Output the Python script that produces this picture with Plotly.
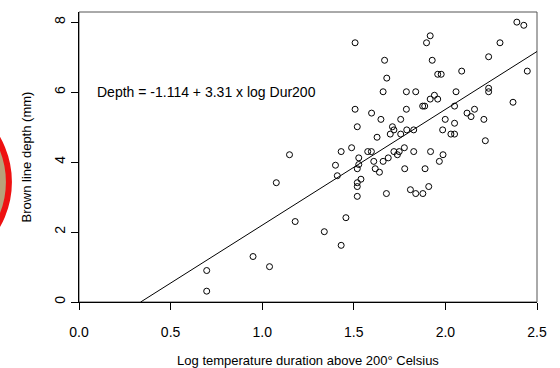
import plotly.graph_objects as go

# Data (log duration above 200 C, brown line depth mm)
log_dur = [0.697, 0.697, 0.95, 1.04, 1.077, 1.149, 1.18, 1.339, 1.431, 1.457,
           1.40, 1.41, 1.431, 1.488, 1.507, 1.507, 1.519, 1.527, 1.527, 1.519,
           1.539, 1.519, 1.519, 1.519, 1.576, 1.596, 1.597, 1.609, 1.617, 1.627,
           1.64, 1.648, 1.66, 1.66, 1.668, 1.68, 1.678, 1.688, 1.699, 1.711,
           1.719, 1.719, 1.738, 1.748, 1.756, 1.756, 1.776, 1.778, 1.787, 1.787,
           1.789, 1.809, 1.827, 1.827, 1.838, 1.838, 1.876, 1.887, 1.877, 1.889,
           1.897, 1.909, 1.917, 1.917, 1.919, 1.928, 1.94, 1.958, 1.958, 1.977,
           1.967, 1.985, 1.987, 1.999, 2.03, 2.05, 2.05, 2.05, 2.058, 2.089,
           2.118, 2.14, 2.159, 2.21, 2.218, 2.236, 2.236, 2.236, 2.298, 2.369,
           2.39, 2.428, 2.447]
depth = [0.90, 0.31, 1.30, 1.01, 3.41, 4.21, 2.30, 2.01, 1.62, 2.41,
         3.91, 3.61, 4.30, 4.41, 7.41, 5.51, 5.01, 4.12, 3.93, 3.81,
         3.51, 3.41, 3.30, 3.02, 4.30, 4.30, 5.40, 4.02, 3.81, 4.71,
         3.71, 5.22, 6.01, 4.02, 6.91, 6.40, 3.10, 4.12, 4.80, 5.01,
         4.92, 4.30, 4.21, 4.30, 5.22, 4.80, 4.41, 3.81, 6.01, 5.51,
         4.92, 3.21, 4.92, 4.30, 6.01, 3.10, 5.60, 5.60, 3.10, 3.81,
         7.41, 3.30, 7.61, 5.80, 4.30, 6.91, 5.91, 5.80, 6.51, 6.51,
         4.02, 4.92, 4.21, 5.22, 4.80, 4.80, 5.60, 5.11, 6.01, 6.60,
         5.40, 5.30, 5.51, 5.22, 4.61, 7.01, 6.11, 6.01, 7.41, 5.71,
         8.00, 7.91, 6.60]

intercept = -1.114
slope = 3.31
fit_x = [-intercept / slope, 2.5]
fit_y = [intercept + slope * v for v in fit_x]

x_ticks = [0.0, 0.5, 1.0, 1.5, 2.0, 2.5]
x_tick_labels = ["0.0", "0.5", "1.0", "1.5", "2.0", "2.5"]
y_ticks = [0, 2, 4, 6, 8]
y_tick_labels = ["0", "2", "4", "6", "8"]

FONT = "Liberation Sans, Arial, Helvetica, sans-serif"

fig = go.Figure()
fig.add_trace(go.Scatter(
    x=log_dur, y=depth, mode="markers",
    marker=dict(symbol="circle-open", size=6, color="black", line=dict(width=1, color="black")),
    showlegend=False, hoverinfo="skip"))
fig.add_trace(go.Scatter(
    x=fit_x, y=fit_y, mode="lines",
    line=dict(color="black", width=1),
    showlegend=False, hoverinfo="skip"))

fig.add_annotation(x=0.088, y=6.0, xref="x", yref="y",
                   text="Depth = -1.114 + 3.31 x log Dur200",
                   showarrow=False, xanchor="left", yanchor="middle",
                   font=dict(family=FONT, size=14, color="black"))

# box around plot
fig.add_shape(type="rect", xref="paper", yref="paper", x0=0, x1=1, y0=0, y1=1,
              line=dict(color="#555555", width=1), layer="below")

# cropped red ring at left edge (outer edge ~12px from image left)
fig.add_shape(type="circle", xref="paper", yref="paper",
              x0=-0.574, x1=-0.153, y0=0.097, y1=0.731,
              line=dict(color="#ee1111", width=6), fillcolor="#b8a07a", layer="above")

fig.update_layout(
    width=560, height=368,
    margin=dict(l=79, r=23, t=12, b=66, autoexpand=False),
    paper_bgcolor="white", plot_bgcolor="white",
    font=dict(family=FONT, size=14, color="black"),
    xaxis=dict(range=[0, 2.5], tickvals=x_ticks, ticktext=x_tick_labels,
               automargin=False,
               showgrid=False, zeroline=False, showline=True, linecolor="black", linewidth=1,
               ticks="outside", ticklen=7, tickcolor="black",
               tickfont=dict(size=14), ticklabelstandoff=10,
               title=dict(text="Log temperature duration above 200° Celsius",
                          font=dict(size=13), standoff=18)),
    yaxis=dict(range=[0, 8.29], tickvals=y_ticks, ticktext=y_tick_labels,
               automargin=False,
               showgrid=False, zeroline=False, showline=True, linecolor="black", linewidth=1,
               ticks="outside", ticklen=7, tickcolor="black", tickangle=-90,
               tickfont=dict(size=14),
               title=dict(text="Brown line depth (mm)", font=dict(size=13), standoff=17)),
)

fig.write_html("out.html", config={"displayModeBar": False},
               post_script="document.body.style.margin='0px';")
